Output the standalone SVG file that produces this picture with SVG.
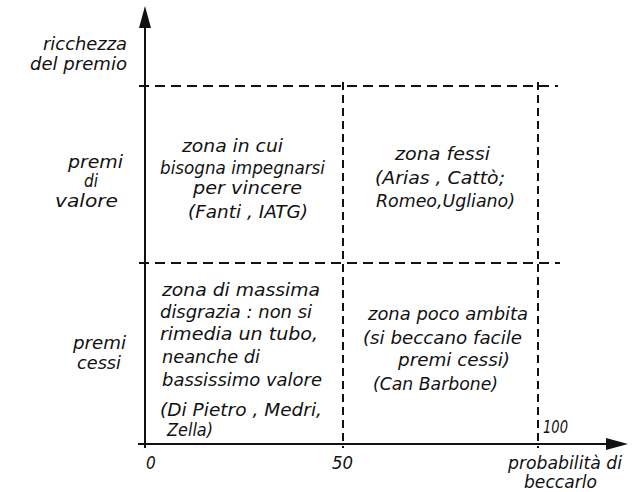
<svg xmlns="http://www.w3.org/2000/svg" width="641" height="492" viewBox="0 0 641 492">
<style>
text{font-family:"DejaVu Sans Condensed","DejaVu Sans",sans-serif;font-style:italic;font-size:17px;fill:#111;}
.axis{stroke:#111;stroke-width:2;fill:none;}
.dash{stroke:#111;stroke-width:2;fill:none;stroke-dasharray:10 6;}
.vdash{stroke:#111;stroke-width:2;fill:none;stroke-dasharray:8 5;}
.head{fill:#111;}
</style>
<rect width="641" height="492" fill="#fff"/>
<g id="connectors">
<line class="axis" x1="145" y1="20" x2="145" y2="448"/>
<line class="axis" x1="138" y1="444" x2="612" y2="444"/>
<polygon class="head" points="145,6 139,28 151,28"/>
<polygon class="head" points="628,444 606,438 606,450"/>
<line class="dash" x1="139" y1="86" x2="558" y2="86"/>
<line class="dash" x1="139" y1="263" x2="560" y2="263"/>
<line class="vdash" x1="343" y1="82" x2="343" y2="448"/>
<line class="vdash" x1="538" y1="82" x2="538" y2="448"/>
</g>
<g id="y-axis-label">
<text x="43" y="50" textLength="84" lengthAdjust="spacingAndGlyphs">ricchezza</text>
<text x="30" y="70" textLength="97" lengthAdjust="spacingAndGlyphs">del premio</text>
</g>
<g id="premi-valore">
<text x="68" y="168" textLength="55" lengthAdjust="spacingAndGlyphs">premi</text>
<text x="84" y="187">di</text>
<text x="55" y="207" textLength="63" lengthAdjust="spacingAndGlyphs">valore</text>
</g>
<g id="premi-cessi">
<text x="73" y="349" textLength="53" lengthAdjust="spacingAndGlyphs">premi</text>
<text x="77" y="369" textLength="44" lengthAdjust="spacingAndGlyphs">cessi</text>
</g>
<g id="zona-impegno">
<text x="182" y="152" textLength="101" lengthAdjust="spacingAndGlyphs">zona  in  cui</text>
<text x="160" y="174" textLength="165" lengthAdjust="spacingAndGlyphs">bisogna impegnarsi</text>
<text x="193" y="194" textLength="109" lengthAdjust="spacingAndGlyphs">per vincere</text>
<text x="188" y="218" textLength="120" lengthAdjust="spacingAndGlyphs">(Fanti , IATG)</text>
</g>
<g id="zona-fessi">
<text x="395" y="160" textLength="95" lengthAdjust="spacingAndGlyphs">zona  fessi</text>
<text x="375" y="184" textLength="130" lengthAdjust="spacingAndGlyphs">(Arias , Cattò;</text>
<text x="376" y="207" textLength="139" lengthAdjust="spacingAndGlyphs">Romeo,Ugliano)</text>
</g>
<g id="zona-disgrazia">
<text x="162" y="296" textLength="158" lengthAdjust="spacingAndGlyphs">zona di massima</text>
<text x="160" y="318" textLength="152" lengthAdjust="spacingAndGlyphs">disgrazia : non si</text>
<text x="160" y="340" textLength="158" lengthAdjust="spacingAndGlyphs">rimedia un tubo,</text>
<text x="162" y="363" textLength="98" lengthAdjust="spacingAndGlyphs">neanche di</text>
<text x="162" y="386" textLength="160" lengthAdjust="spacingAndGlyphs">bassissimo valore</text>
<text x="160" y="416" textLength="162" lengthAdjust="spacingAndGlyphs">(Di Pietro , Medri,</text>
<text x="167" y="436" textLength="46" lengthAdjust="spacingAndGlyphs">Zella)</text>
</g>
<g id="zona-poco-ambita">
<text x="368" y="320" textLength="160" lengthAdjust="spacingAndGlyphs">zona poco ambita</text>
<text x="363" y="344" textLength="159" lengthAdjust="spacingAndGlyphs">(si beccano facile</text>
<text x="398" y="366" textLength="112" lengthAdjust="spacingAndGlyphs">premi cessi)</text>
<text x="373" y="390" textLength="125" lengthAdjust="spacingAndGlyphs">(Can Barbone)</text>
</g>
<g id="x-axis-labels">
<text x="146" y="469">0</text>
<text x="332" y="469" textLength="21" lengthAdjust="spacingAndGlyphs">50</text>
<text x="543" y="433" textLength="25" lengthAdjust="spacingAndGlyphs">100</text>
<text x="508" y="469" textLength="114" lengthAdjust="spacingAndGlyphs">probabilità  di</text>
<text x="524" y="488" textLength="73" lengthAdjust="spacingAndGlyphs">beccarlo</text>
</g>
</svg>
